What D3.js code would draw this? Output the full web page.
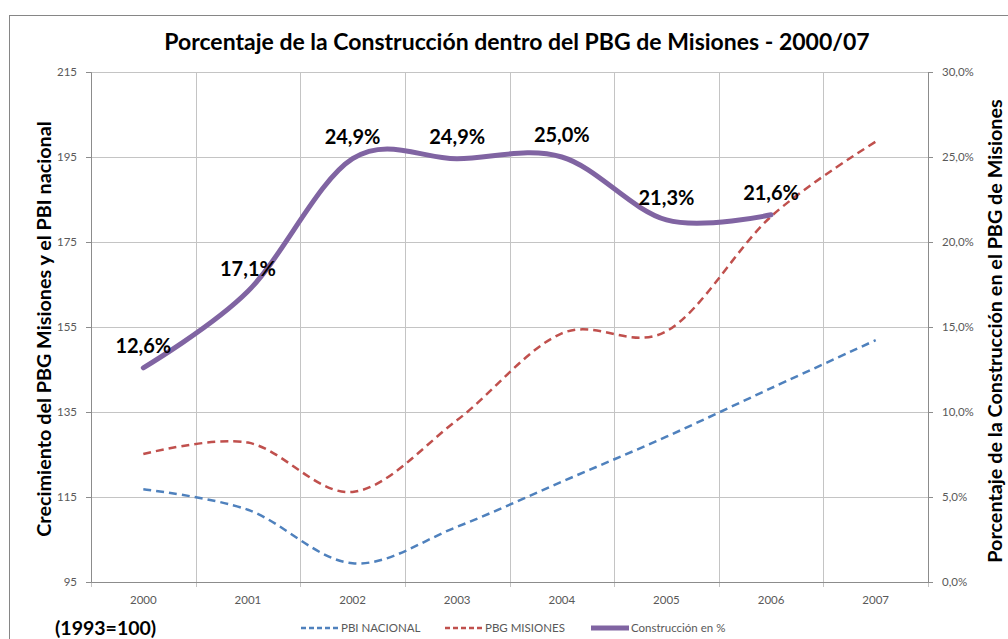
<!DOCTYPE html>
<html>
<head>
<meta charset="utf-8">
<script src="https://cdn.jsdelivr.net/npm/d3@7"></script>
<style>
  body { margin: 0; background: #fff; }
  text { font-family: Lato, "Open Sans", sans-serif; }
</style>
</head>
<body>
<div id="chart"></div>
<script>
// data
const years = ["2000", "2001", "2002", "2003", "2004", "2005", "2006", "2007"];
const pbiNacional = [116.8, 112.0, 99.4, 108.0, 118.6, 129.2, 140.6, 151.9];
const pbgMisiones = [125.1, 127.8, 116.2, 133.1, 153.5, 154.0, 181.0, 198.6];
const construccion = [12.6, 17.1, 24.9, 24.9, 25.0, 21.3, 21.6];
const leftTicks = [95, 115, 135, 155, 175, 195, 215];
const rightTicks = [0, 5, 10, 15, 20, 25, 30];

const width = 1008, height = 639;
const margin = { top: 72, right: 80, bottom: 57, left: 91 };
const innerW = width - margin.left - margin.right;
const innerH = height - margin.top - margin.bottom;

const blue = "#4f81bd", red = "#c0504d", purple = "#8064a2";
const gridColor = "#c4c4c4", axisColor = "#8c8c8c", tickText = "#595959";

const svg = d3.select("#chart").append("svg")
    .attr("width", width)
    .attr("height", height);

// outer chart frame
svg.append("rect")
    .attr("x", 9.5).attr("y", 15.5)
    .attr("width", 1010).attr("height", 640)
    .attr("fill", "none")
    .attr("stroke", "#868686");

svg.append("text")
    .attr("x", 517).attr("y", 50)
    .attr("text-anchor", "middle")
    .attr("font-size", 23)
    .attr("font-weight", "bold")
    .attr("fill", "#000")
    .text("Porcentaje de la Construcción dentro del PBG de Misiones - 2000/07");

const g = svg.append("g").attr("transform", `translate(${margin.left},${margin.top})`);

const x = d3.scaleBand().domain(years).range([0, innerW]).padding(0);
const cx = d => x(d) + x.bandwidth() / 2;
const yL = d3.scaleLinear().domain([95, 215]).range([innerH, 0]);
const yR = d3.scaleLinear().domain([0, 30]).range([innerH, 0]);

// gridlines
g.append("g").selectAll("line.h")
    .data(leftTicks)
    .join("line")
    .attr("x1", 0).attr("x2", innerW)
    .attr("y1", d => Math.round(yL(d)) + 0.5)
    .attr("y2", d => Math.round(yL(d)) + 0.5)
    .attr("stroke", gridColor);

const bounds = years.map(d => x(d)).concat([innerW]);
g.append("g").selectAll("line.v")
    .data(bounds)
    .join("line")
    .attr("x1", d => Math.round(d) + 0.5).attr("x2", d => Math.round(d) + 0.5)
    .attr("y1", 0).attr("y2", innerH + 5)
    .attr("stroke", gridColor);

// axes
const leftAxis = g.append("g")
    .call(d3.axisLeft(yL).tickValues(leftTicks).tickSize(5).tickPadding(9));
const rightAxis = g.append("g")
    .attr("transform", `translate(${innerW},0)`)
    .call(d3.axisRight(yR).tickValues(rightTicks).tickSize(5).tickPadding(9)
        .tickFormat(d => d.toFixed(1).replace(".", ",") + "%"));
const bottomAxis = g.append("g")
    .attr("transform", `translate(0,${innerH})`)
    .call(d3.axisBottom(x).tickSize(0).tickPadding(14));

[leftAxis, rightAxis, bottomAxis].forEach(a => {
    a.select(".domain").attr("stroke", axisColor);
    a.selectAll(".tick line").attr("stroke", axisColor);
    a.selectAll("text").attr("fill", tickText).attr("font-size", 11.5)
        .attr("font-family", "Lato, sans-serif");
});

// axis titles
svg.append("text")
    .attr("transform", `translate(51,${margin.top + innerH / 2 + 2}) rotate(-90)`)
    .attr("text-anchor", "middle")
    .attr("font-size", 19.8)
    .attr("font-weight", "bold")
    .text("Crecimiento del PBG Misiones y el PBI nacional");

svg.append("text")
    .attr("transform", `translate(1002,${margin.top + innerH / 2 + 4}) rotate(-90)`)
    .attr("text-anchor", "middle")
    .attr("font-size", 19.8)
    .attr("font-weight", "bold")
    .text("Porcentaje de la Construcción en el PBG de Misiones");

// lines
const curve = d3.curveCardinal.tension(0);
const lineL = d3.line().x((d, i) => cx(years[i])).y(d => yL(d)).curve(curve);
const lineR = d3.line().x((d, i) => cx(years[i])).y(d => yR(d)).curve(curve);

g.append("path")
    .attr("d", lineL(pbiNacional))
    .attr("fill", "none")
    .attr("stroke", blue)
    .attr("stroke-width", 2.5)
    .attr("stroke-dasharray", "8,5");

g.append("path")
    .attr("d", lineL(pbgMisiones))
    .attr("fill", "none")
    .attr("stroke", red)
    .attr("stroke-width", 2.5)
    .attr("stroke-dasharray", "8,5");

g.append("path")
    .attr("d", lineR(construccion))
    .attr("fill", "none")
    .attr("stroke", purple)
    .attr("stroke-width", 5)
    .attr("stroke-linecap", "round");

// data labels
g.append("g").selectAll("text")
    .data(construccion)
    .join("text")
    .attr("x", (d, i) => cx(years[i]))
    .attr("y", d => yR(d) - 15)
    .attr("text-anchor", "middle")
    .attr("font-size", 20)
    .attr("font-weight", "bold")
    .attr("fill", "#000")
    .text(d => d.toFixed(1).replace(".", ",") + "%");

// legend
const legendItems = [
    { label: "PBI NACIONAL", color: blue, dash: "5,3", w: 2.5, x: 301 },
    { label: "PBG MISIONES", color: red, dash: "5,3", w: 2.5, x: 445 },
    { label: "Construcción en %", color: purple, dash: null, w: 5, x: 591 }
];
const legend = svg.append("g");
legendItems.forEach(it => {
    legend.append("line")
        .attr("x1", it.x).attr("x2", it.x + 38)
        .attr("y1", 628).attr("y2", 628)
        .attr("stroke", it.color)
        .attr("stroke-width", it.w)
        .attr("stroke-dasharray", it.dash);
    legend.append("text")
        .attr("x", it.x + 40).attr("y", 632)
        .attr("font-size", 11.5)
        .attr("fill", tickText)
        .text(it.label);
});

svg.append("text")
    .attr("x", 55).attr("y", 635)
    .attr("font-size", 19.5)
    .attr("font-weight", "bold")
    .text("(1993=100)");
</script>
</body>
</html>
